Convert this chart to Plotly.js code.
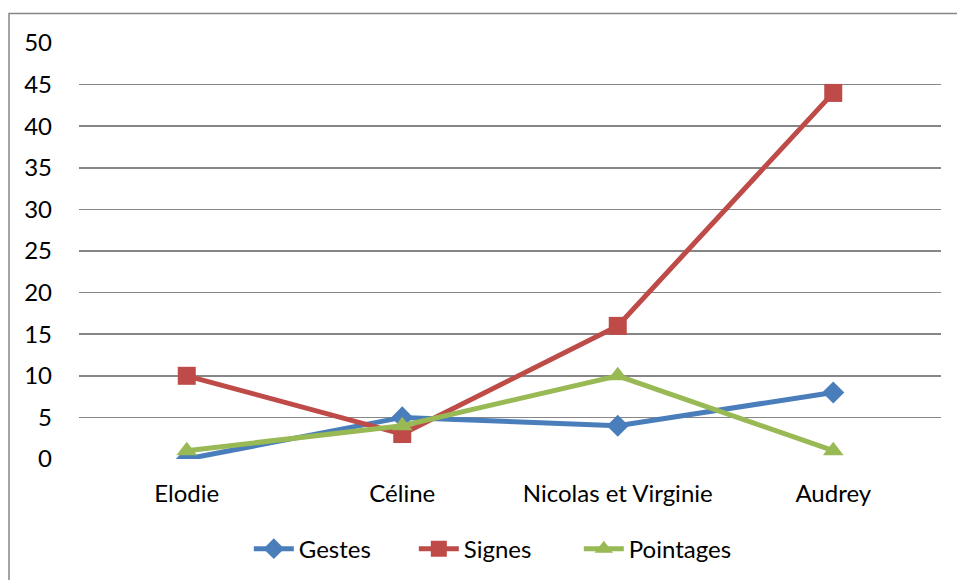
<!DOCTYPE html>
<html><head><meta charset="utf-8">
<script src="https://cdn.plot.ly/plotly-3.0.1.min.js"></script>
<style>html,body{margin:0;padding:0;background:#fff;}</style>
</head><body>
<div id="chart" style="width:957px;height:580px;"></div>
<script>
const categories = ["Elodie", "Céline", "Nicolas et Virginie", "Audrey"];
const gestes = [0, 5, 4, 8];
const signes = [10, 3, 16, 44];
const pointages = [1, 4, 10, 1];
const yTicks = [0, 5, 10, 15, 20, 25, 30, 35, 40, 45, 50];

const traces = [
  {name: "Gestes", x: categories, y: gestes, type: "scatter", mode: "lines+markers",
   line: {color: "#4A7EBB", width: 5}, marker: {symbol: "diamond", size: 17, color: "#4A7EBB"}},
  {name: "Signes", x: categories, y: signes, type: "scatter", mode: "lines+markers",
   line: {color: "#BE4B48", width: 5}, marker: {symbol: "square", size: 18, color: "#BE4B48"}},
  {name: "Pointages", x: categories, y: pointages, type: "scatter", mode: "lines+markers",
   line: {color: "#98B954", width: 5}, marker: {symbol: "triangle-up", size: 18, color: "#98B954"}}
];

const layout = {
  width: 957, height: 580,
  margin: {l: 79, r: 16, t: 43, b: 121, autoexpand: false},
  paper_bgcolor: "#ffffff", plot_bgcolor: "#ffffff",
  font: {family: "Lato, 'Open Sans', sans-serif", size: 24, color: "#000"},
  showlegend: true,
  legend: {orientation: "h", x: 0.197, xanchor: "left", yref: "container", y: 0.0534, yanchor: "middle",
           font: {size: 24}, itemwidth: 40, entrywidth: 110, traceorder: "normal"},
  xaxis: {type: "category", categoryorder: "array", categoryarray: categories,
          range: [-0.5, 3.5], showgrid: false, zeroline: false, showline: false,
          ticks: "", ticklabelstandoff: 18, fixedrange: true},
  yaxis: {range: [0, 50], tickvals: yTicks, showgrid: true, gridcolor: "#868686", gridwidth: 1.6,
          zeroline: false, showline: false, ticks: "", ticklabelstandoff: 26, fixedrange: true},
  shapes: [{type: "rect", xref: "paper", yref: "paper",
            x0: -0.0812, x1: 2, y0: -2, y1: 1.0709,
            line: {color: "#868686", width: 1.5}, fillcolor: "rgba(0,0,0,0)", layer: "below"}]
};

Plotly.newPlot("chart", traces, layout, {displayModeBar: false, staticPlot: true});
</script>
</body></html>
